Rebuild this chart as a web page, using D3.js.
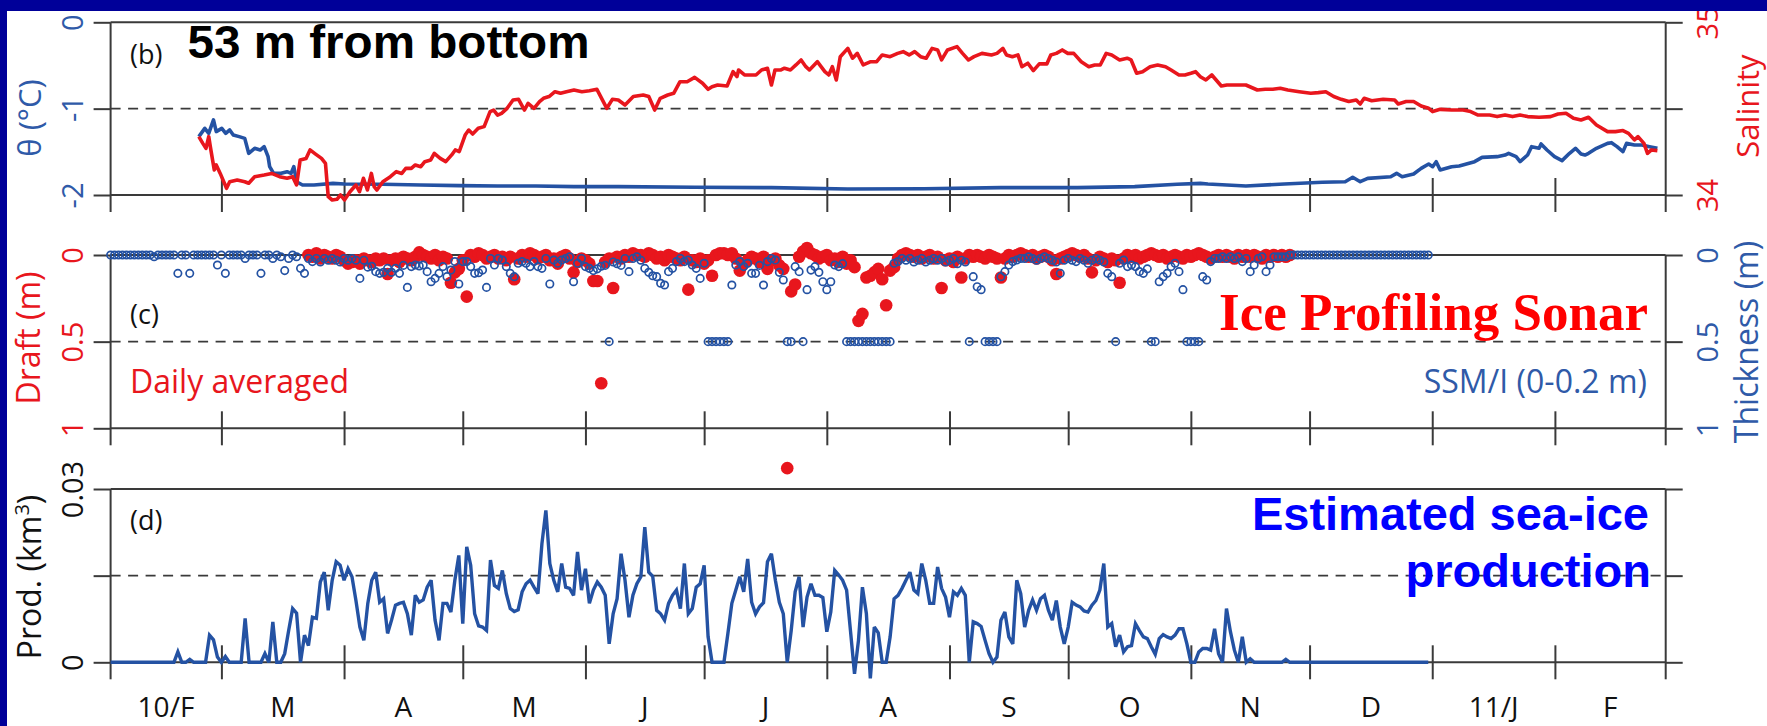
<!DOCTYPE html>
<html>
<head>
<meta charset="utf-8">
<script src="https://cdn.jsdelivr.net/npm/d3@7"></script>
<style>
  html, body { margin: 0; padding: 0; background: #000099; }
  svg { display: block; }
</style>
</head>
<body>
<svg id="chart" width="1767" height="726"></svg>
<script>
// ---------------------------------------------------------------
// Mooring record, Feb 2010 – Feb 2011
// ---------------------------------------------------------------

// Month boundaries and labels for the shared time axis
const monthStarts = ["2010-02-01","2010-03-01","2010-04-01","2010-05-01","2010-06-01","2010-07-01",
  "2010-08-01","2010-09-01","2010-10-01","2010-11-01","2010-12-01","2011-01-01","2011-02-01","2011-03-01"];
const monthLabels = ["10/F","M","A","M","J","J","A","S","O","N","D","11/J","F"];

// (b) 53 m above bottom: potential temperature, days after 2010-02-01
const thetaDay = [22.3,23.8,24.8,26.0,26.7,28.1,29.1,30.1,31.0,32.5,33.9,34.9,36.4,37.8,38.8,39.8,40.2,41.2,43.1,44.6,
  45.6,46.3,47.0,48.5,51.4,56.2,59.1,68.8,78.4,88.1,97.8,107.5,117.1,128.3,147.6,167.0,186.3,205.6,225.0,244.3,
  258.8,269.5,275.4,277.3,286.9,296.6,306.2,312.0,313.9,315.8,317.7,323.5,325.0,326.4,329.3,331.2,333.1,334.1,335.0,336.0,
  338.9,340.8,344.7,346.6,350.4,352.4,353.3,355.2,356.2,358.1,359.1,361.0,361.5,363.0,364.9,366.8,368.7,370.2,371.6,372.6,
  373.5,375.5,378.3,379.3,380.7,382.2,383.1,385.1,387.0,388.9,390.9];
const thetaC = [-1.324,-1.228,-1.286,-1.131,-1.266,-1.228,-1.286,-1.247,-1.305,-1.324,-1.344,-1.517,-1.459,-1.479,-1.440,-1.556,-1.672,-1.749,-1.749,-1.730,
  -1.749,-1.672,-1.846,-1.884,-1.884,-1.865,-1.873,-1.876,-1.884,-1.892,-1.896,-1.896,-1.903,-1.903,-1.911,-1.915,-1.930,-1.927,-1.915,-1.915,
  -1.903,-1.876,-1.865,-1.873,-1.896,-1.873,-1.853,-1.846,-1.795,-1.846,-1.807,-1.788,-1.749,-1.788,-1.757,-1.691,-1.641,-1.672,-1.614,-1.710,
  -1.672,-1.664,-1.614,-1.564,-1.556,-1.537,-1.517,-1.556,-1.614,-1.537,-1.440,-1.459,-1.409,-1.479,-1.556,-1.602,-1.517,-1.459,-1.525,-1.537,
  -1.517,-1.459,-1.402,-1.394,-1.440,-1.498,-1.402,-1.421,-1.421,-1.440,-1.459];

// (b) salinity, days after 2010-02-01
const salDay = [22.3,23.3,24.1,24.8,25.2,26.2,26.7,27.7,29.3,30.1,32.0,33.9,34.9,36.4,38.8,40.7,42.7,44.6,46.0,47.0,
  47.9,49.4,50.4,51.8,53.3,54.3,55.0,56.0,57.2,58.1,59.1,60.5,62.0,62.9,63.9,64.9,65.9,66.6,67.3,68.8,
  70.7,72.2,73.6,74.6,76.0,77.0,78.4,79.4,80.9,81.8,83.3,84.7,86.2,87.1,88.1,89.6,90.5,91.5,92.9,94.4,
  95.9,96.8,97.8,98.8,100.2,101.7,103.1,104.1,104.6,105.5,107.0,108.4,109.4,110.8,112.3,113.7,115.2,117.1,119.1,121.0,122.9,
  125.4,126.8,128.3,130.0,132.1,134.6,136.0,137.5,138.9,140.8,142.3,143.9,145.7,147.6,149.6,151.0,152.0,153.4,155.8,157.3,
  158.3,158.7,160.2,163.1,164.5,166.0,167.0,167.9,169.4,170.3,171.8,173.2,174.5,175.7,176.6,178.6,180.5,181.5,182.4,183.4,
  184.4,186.3,187.5,188.7,190.2,192.1,193.6,195.0,197.0,198.9,200.3,201.8,203.2,204.7,206.1,207.6,209.0,210.0,211.5,213.9,
  215.3,216.8,218.2,220.2,222.6,224.0,225.5,226.4,227.9,229.3,230.3,231.8,233.2,234.7,236.6,237.6,239.0,240.5,241.9,243.4,
  245.3,247.2,248.7,250.1,251.6,253.0,255.0,256.9,257.9,259.3,260.8,262.7,264.6,266.6,268.0,270.0,
  271.5,273.0,274.2,275.4,276.8,278.3,280.7,282.1,284.1,286.9,289.8,291.8,293.7,295.6,297.5,300.4,303.3,305.2,307.1,309.1,
  311.0,312.9,314.8,315.8,316.8,318.7,321.6,324.5,325.4,327.4,329.3,331.2,333.1,334.1,336.0,338.9,341.8,343.7,345.6,348.5,
  350.4,352.4,354.3,356.2,358.1,361.0,363.9,365.8,367.8,369.7,371.6,373.5,375.5,378.3,380.3,382.2,383.6,385.1,386.0,387.5,
  388.4,389.4,390.9];
const salPSU = [34.338,34.299,34.270,34.338,34.280,34.145,34.174,34.125,34.039,34.077,34.087,34.077,34.068,34.106,34.116,34.125,34.106,34.097,34.106,34.058,
  34.203,34.212,34.261,34.237,34.212,34.183,33.990,33.971,33.975,34.000,33.971,34.019,34.058,34.019,34.097,34.029,34.125,34.048,34.029,34.077,
  34.106,34.135,34.125,34.154,34.154,34.174,34.164,34.193,34.203,34.241,34.212,34.193,34.232,34.261,34.251,34.347,34.376,34.353,34.386,34.396,
  34.483,34.492,34.463,34.473,34.502,34.550,34.554,34.512,34.492,34.531,34.502,34.541,34.560,34.570,34.598,34.589,34.598,34.608,34.598,34.604,34.612,
  34.502,34.554,34.550,34.521,34.570,34.579,34.570,34.492,34.560,34.579,34.589,34.656,34.656,34.681,34.647,34.612,34.627,34.637,34.631,34.714,
  34.685,34.724,34.695,34.695,34.724,34.734,34.637,34.724,34.724,34.734,34.724,34.753,34.782,34.743,34.724,34.772,34.714,34.695,34.743,34.666,
  34.801,34.849,34.792,34.820,34.753,34.772,34.772,34.811,34.801,34.820,34.830,34.811,34.830,34.801,34.792,34.849,34.840,34.782,34.840,34.859,
  34.820,34.782,34.801,34.820,34.811,34.820,34.849,34.811,34.801,34.811,34.743,34.763,34.720,34.759,34.759,34.811,34.820,34.840,34.820,34.820,
  34.772,34.743,34.753,34.753,34.820,34.811,34.782,34.792,34.782,34.705,34.714,34.743,34.753,34.743,34.724,34.695,
  34.695,34.705,34.714,34.685,34.666,34.695,34.631,34.637,34.637,34.637,34.608,34.612,34.612,34.618,34.608,34.598,34.589,34.593,34.598,34.570,
  34.554,34.541,34.550,34.527,34.560,34.546,34.554,34.550,34.527,34.541,34.541,34.515,34.502,34.483,34.496,34.492,34.492,34.483,34.463,34.463,
  34.454,34.463,34.454,34.463,34.454,34.450,34.454,34.469,34.473,34.444,34.434,34.450,34.405,34.367,34.367,34.373,34.357,34.319,34.338,34.299,
  34.241,34.261,34.257];

// (c) SSM/I thin-ice thickness (m), daily from 2010-02-01
const ssmiStart = "2010-02-01";
const ssmiThickness = [
  0,0,0,0,0,0,0,0,0,0,
  0,0.01,0,0,0,0,0,0.106,0,0,
  0.106,0,0,0,0,0,0,0.058,0,0.106,
  0,0,0,0,0.02,0,0,0,0.106,0,
  0,0.02,0,0.01,0.09,0.02,0,0.01,0.077,0.106,
  0.02,0.038,0.02,0.04,0.02,0.03,0.02,0.03,0.04,0.02,
  0.03,0.02,0.03,0.135,0.03,0.07,0.065,0.096,0.106,0.10,
  0.077,0.10,0.077,0.106,0.06,0.187,0.067,0.058,0.063,0.058,
  0.096,0.154,0.135,0.106,0.067,0.125,0.087,0.038,0.167,0.038,
  0.038,0.067,0.106,0.102,0.087,0.187,0.02,0.058,0.02,0.029,
  0.067,0.106,0.125,0.048,0.038,0.048,0.067,0.038,0.067,0.077,
  0.02,0.167,0.029,0.048,0.029,0.02,0.01,0.154,0.048,0.02,
  0.067,0.077,0.09,0.08,0.065,0.06,0.5,0.04,0.05,0.06,
  0.02,0.096,0.02,0.01,0.03,0.077,0.10,0.12,0.125,0.163,
  0.173,0.096,0.077,0.038,0.02,0.038,0.029,0.058,0.077,0.135,
  0.048,0.5,0.5,0.5,0.5,0.5,0.5,0.173,0.058,0.038,
  0.067,0.048,0.106,0.106,0.06,0.173,0.038,0.02,0.029,0.1,
  0.144,0.5,0.5,0.067,0.096,0.5,0.2,0.087,0.067,0.1,
  0.154,0.2,0.154,0.058,0.067,0.05,0.5,0.5,0.5,0.5,
  0.5,0.5,0.5,0.5,0.5,0.5,0.5,0.5,0.048,0.038,
  0.02,0.03,0.02,0.04,0.03,0.02,0.04,0.03,0.02,0.03,
  0.02,0.04,0.03,0.02,0.05,0.03,0.04,0.5,0.125,0.183,
  0.2,0.5,0.5,0.5,0.5,0.125,0.096,0.058,0.038,0.029,
  0.02,0.02,0.01,0.02,0.03,0.02,0.01,0.02,0.03,0.04,
  0.106,0.03,0.02,0.03,0.038,0.02,0.03,0.048,0.03,0.02,
  0.03,0.04,0.106,0.125,0.5,0.048,0.029,0.067,0.058,0.067,
  0.096,0.106,0.08,0.5,0.5,0.154,0.125,0.106,0.067,0.048,
  0.096,0.2,0.5,0.5,0.5,0.5,0.125,0.144,0.038,0.02,
  0.02,0.01,0.02,0.01,0.02,0.01,0.038,0.02,0.096,0.058,
  0.02,0.01,0.096,0.058,0.01,0.01,0.01,0.01,0,0,
  0,0,0,0,0,0,0,0,0,0,
  0,0,0,0,0,0,0,0,0,0,
  0,0,0,0,0,0,0,0,0,0,
  0,0,0,0];

// (c) IPS daily-averaged ice draft (m), daily from 2010-03-23
const ipsStart = "2010-03-23";
const ipsDraft = [
  0,0.01,-0.01,0.02,0,0.01,0.02,0,0.01,0.03,
  0.05,0.04,0.03,0.05,0.02,0.03,0.04,0.02,0.03,0.02,
  0.11,0.03,0.02,0.04,0.01,0.02,0.03,0.01,-0.015,0,
  0.01,0.02,0,0.03,0.01,0.02,0.16,0.10,0.08,0.03,
  0.24,0,0.01,-0.01,0,0.02,0.01,0,0.02,0.01,
  0.03,0.01,0.14,0.02,0,0.01,-0.01,0,0.02,0.01,
  0,0.03,0.02,0.05,0.01,0,0.02,0.10,0.04,0.02,
  0.03,0.05,0.15,0.15,0.74,0.04,0.02,0.19,0.01,0.02,
  0,0.01,-0.01,0,0,0.01,-0.01,0,0.02,0.01,
  0.03,0,0.01,0.02,0.03,0.01,0.20,0.03,0.04,0.02,
  0.05,0.03,0.12,0,-0.01,-0.01,0,-0.01,0.02,0.09,
  0.05,0.03,0.01,0.02,0.04,0.01,0.08,0.03,0.02,0.06,
  0.08,1.23,0.21,0.17,0.01,-0.02,-0.04,-0.01,0,0.02,
  0.01,0,0.03,0.02,0.04,0.01,0.05,0.03,0.07,0.38,
  0.34,0.13,0.12,0.10,0.08,0.14,0.29,0.09,0.07,0.02,
  0,-0.01,0,0.01,0,0.02,0.01,0,0.02,0.01,
  0.19,0.03,0.02,0.04,0.01,0.13,0.02,0,0.01,0,
  0.01,0.02,0,0.01,0.02,0.13,0.02,0,0.01,0,
  -0.01,0,0.01,0,0.02,0.01,0,0.01,0.03,0.11,
  0.02,0.01,0,-0.01,0,0.01,0,0.02,0.10,0.03,
  0.01,0.02,0.04,0.02,0.03,0.16,0.02,0,0.01,0,
  0.02,0.01,0,-0.01,0,0.01,0,0.02,0.01,0,
  0.01,0.02,0,0.01,0,-0.01,0,0.01,0.02,0.01,
  0,0.01,0,0.01,0.02,0,0.01,0,0.01,0,
  0.01,0.02,0,0.01,0,0.01,0,0.01,0];

// (d) estimated daily sea-ice production (km^3), daily from 2010-02-01
const prodStart = "2010-02-01";
const iceProduction = [
  0,0,0,0,0,0,0,0,0,0,
  0,0,0,0,0,0,0,0.0018,0,0,
  0.0005,0,0,0,0,0.0047,0.0039,0.0009,0,0.0010,
  0,0,0,0,0.0076,0,0,0,0,0.0015,
  0,0.0070,0,0,0.0015,0.0055,0.0093,0.0085,0,0.0047,
  0.0029,0.0078,0.0076,0.0139,0.0156,0.0090,0.0142,0.0174,0.0168,0.0142,
  0.0162,0.0148,0.0107,0.0061,0.0038,0.0102,0.0142,0.0156,0.0104,0.0110,
  0.0050,0.0073,0.0099,0.0102,0.0104,0.0084,0.0047,0.0116,0.0104,0.0108,
  0.0130,0.0142,0.0073,0.0038,0.0102,0.0102,0.0087,0.0142,0.0185,0.0067,
  0.0200,0.0168,0.0084,0.0063,0.0061,0.0055,0.0177,0.0133,0.0128,0.0159,
  0.0119,0.0093,0.0088,0.0091,0.0122,0.0136,0.0142,0.0130,0.0119,0.0205,
  0.0263,0.0171,0.0142,0.0122,0.0171,0.0130,0.0128,0.0116,0.0191,0.0125,
  0.0162,0.0102,0.0125,0.0139,0.0130,0.0116,0.0032,0.0084,0.0110,0.0188,
  0.0142,0.0078,0.0116,0.0136,0.0148,0.0234,0.0156,0.0149,0.0090,0.0084,
  0.0073,0.0102,0.0116,0.0125,0.0093,0.0171,0.0084,0.0093,0.0130,0.0136,
  0.0168,0.0044,0,0,0,0,0.0050,0.0102,0.0125,0.0148,
  0.0122,0.0179,0.0104,0.0084,0.0096,0.0103,0.0174,0.0188,0.0142,0.0104,
  0.0084,0,0.0055,0.0122,0.0148,0.0061,0.0113,0.0136,0.0116,0.0116,
  0.0112,0.0053,0.0087,0.0159,0.0151,0.0142,0.0125,0.0053,-0.0020,0.0038,
  0.0130,0.0084,-0.0028,0.0061,0.0051,0,0,0.0044,0.0110,0.0116,
  0.0128,0.0142,0.0156,0.0125,0.0119,0.0171,0.0142,0.0102,0.0102,0.0165,
  0.0128,0.0113,0.0078,0.0122,0.0116,0.0128,0.0116,0,0.0070,0.0067,
  0.0062,0.0038,0.0015,0,0.0009,0.0073,0.0087,0.0044,0.0032,0.0142,
  0.0119,0.0061,0.0090,0.0108,0.0090,0.0110,0.0116,0.0090,0.0073,0.0107,
  0.0061,0.0032,0.0061,0.0104,0.0099,0.0096,0.0089,0.0087,0.0099,0.0107,
  0.0125,0.0171,0.0061,0.0067,0.0027,0.0047,0.0018,0.0027,0.0029,0.0067,
  0.0055,0.0044,0.0041,0.0027,0.0014,0.0041,0.0048,0.0044,0.0041,0.0047,
  0.0058,0.0058,0.0032,0,0,0.0018,0.0024,0.0024,0.0021,0.0058,
  0.0015,0,0.0093,0.0053,0.0021,0,0.0044,0,0.0006,0,
  0,0,0,0,0,0,0,0.0005,0,0,
  0,0,0,0,0,0,0,0,0,0,
  0,0,0,0,0,0,0,0,0,0,
  0,0,0,0,0,0,0,0,0,0,
  0,0,0,0];

// ---------------------------------------------------------------
// Drawing
// ---------------------------------------------------------------
const W = 1767, H = 726;
const X0 = 110.6, X1 = 1665.7;   // plot left / right edges
const TK = 17;                   // tick length
const RED = "#e8161d", BLUE = "#2452a3", LABEL_BLUE = "#2f5aa8", FRAME = "#3a3a3a";
const SANS = "'Open Sans', 'DejaVu Sans', sans-serif";

const parse = d3.utcParse("%Y-%m-%d");
const t0 = parse("2010-02-01");
const dayToDate = d => new Date(t0.getTime() + d * 864e5);
const dailyDates = (startStr, n) => d3.range(n).map(i => d3.utcDay.offset(parse(startStr), i));

const x = d3.scaleUtc()
  .domain([parse(monthStarts[0]), parse(monthStarts[monthStarts.length - 1])])
  .range([X0, X1]);

const svg = d3.select("#chart");
svg.append("rect").attr("width", W).attr("height", H).attr("fill", "#ffffff");

// panel scales
const yTheta = d3.scaleLinear().domain([-2, 0]).range([195, 22.3]);
const ySal   = d3.scaleLinear().domain([34, 35]).range([195, 22.3]);
const yDraft = d3.scaleLinear().domain([0, 1]).range([255, 428.3]);
const yThick = d3.scaleLinear().domain([0, 1]).range([255, 428.3]);
const yProd  = d3.scaleLinear().domain([0, 0.03]).range([662.3, 489]);

const innerMonths = monthStarts.slice(1, -1).map(parse);

// frame with solid edges, dashed middle line and crossing month ticks
function frame(y, tickVals, topY, bottomY) {
  const g = svg.append("g").attr("color", FRAME).attr("stroke", FRAME).attr("stroke-width", 2);
  const midY = y(tickVals[1]);
  [topY, bottomY].forEach(v => g.append("line").attr("x1", X0).attr("x2", X1).attr("y1", v).attr("y2", v));
  g.append("line").attr("x1", X0).attr("x2", X1).attr("y1", midY).attr("y2", midY)
    .attr("stroke-dasharray", "10,7.5").attr("stroke-width", 1.8);

  const left = g.append("g").attr("transform", `translate(${X0},0)`)
    .call(d3.axisLeft(y).tickValues(tickVals).tickSize(TK).tickFormat(""));
  const right = g.append("g").attr("transform", `translate(${X1},0)`)
    .call(d3.axisRight(y).tickValues(tickVals).tickSize(TK).tickFormat(""));
  [left, right].forEach(a => { a.select(".domain").remove(); a.selectAll("line").attr("stroke-width", 2); });

  g.append("line").attr("x1", X0).attr("x2", X0).attr("y1", topY).attr("y2", bottomY + TK);
  g.append("line").attr("x1", X1).attr("x2", X1).attr("y1", topY).attr("y2", bottomY + TK);

  const xa = g.append("g").attr("transform", `translate(0,${bottomY})`)
    .call(d3.axisBottom(x).tickValues(innerMonths).tickSize(TK).tickFormat(""));
  xa.select(".domain").remove();
  xa.selectAll(".tick line").attr("y1", -TK).attr("y2", TK).attr("stroke-width", 2);
}

// rotated tick labels
function yLabels(y, vals, fmt, side, color) {
  const axis = (side === "left" ? d3.axisLeft(y) : d3.axisRight(y)).tickValues(vals).tickFormat(fmt).tickSize(0);
  const g = svg.append("g").attr("transform", `translate(${side === "left" ? X0 : X1},0)`).call(axis);
  g.select(".domain").remove();
  g.selectAll(".tick line").remove();
  g.selectAll(".tick text")
    .attr("x", 0).attr("y", 0).attr("dy", 0)
    .attr("transform", `translate(${side === "left" ? -28 : 52},0) rotate(-90)`)
    .attr("text-anchor", "middle")
    .attr("fill", color)
    .style("font-family", SANS).style("font-size", "29px");
}

function rotTitle(txt, xPos, yPos, color, size) {
  return svg.append("text").attr("transform", `translate(${xPos},${yPos}) rotate(-90)`)
    .attr("text-anchor", "middle").attr("fill", color)
    .style("font-family", SANS).style("font-size", size + "px").text(txt);
}

function plainText(txt, xPos, yPos, opts) {
  return svg.append("text").attr("x", xPos).attr("y", yPos)
    .attr("text-anchor", opts.anchor || "start").attr("fill", opts.color || "#111")
    .style("font-family", opts.family || SANS).style("font-size", opts.size + "px")
    .style("font-weight", opts.weight || "normal").text(txt);
}

const fmtPlain = d => String(d);

// ---------- panel (b) ----------
frame(yTheta, [-2, -1, 0], 22.3, 195);
const thetaPts = thetaDay.map((d, i) => [dayToDate(d), thetaC[i]]);
const salPts = salDay.map((d, i) => [dayToDate(d), salPSU[i]]);
svg.append("path").datum(thetaPts)
  .attr("d", d3.line().x(p => x(p[0])).y(p => yTheta(p[1])))
  .attr("fill", "none").attr("stroke", BLUE).attr("stroke-width", 3.6).attr("stroke-linejoin", "round");
svg.append("path").datum(salPts)
  .attr("d", d3.line().x(p => x(p[0])).y(p => ySal(p[1])))
  .attr("fill", "none").attr("stroke", RED).attr("stroke-width", 3.6).attr("stroke-linejoin", "round");
yLabels(yTheta, [-2, -1, 0], fmtPlain, "left", LABEL_BLUE);
yLabels(ySal, [34, 35], fmtPlain, "right", RED);
rotTitle("θ (°C)", 41, 118, LABEL_BLUE, 31);
rotTitle("Salinity", 1759, 106, RED, 31);
plainText("(b)", 130, 63.5, { size: 27 });
plainText("53 m from bottom", 187.5, 58, { size: 46, weight: "bold", color: "#000", family: "'Liberation Sans', Arial, sans-serif" })
  .attr("textLength", 402).attr("lengthAdjust", "spacingAndGlyphs");

// ---------- panel (c) ----------
frame(yDraft, [0, 0.5, 1], 255, 428.3);
const ipsDates = dailyDates(ipsStart, ipsDraft.length);
svg.append("g").selectAll("circle").data(ipsDraft).join("circle")
  .attr("cx", (d, i) => x(ipsDates[i])).attr("cy", d => yDraft(d)).attr("r", 6.3)
  .attr("fill", RED);
const ssmiDates = dailyDates(ssmiStart, ssmiThickness.length);
svg.append("g").selectAll("circle").data(ssmiThickness).join("circle")
  .attr("cx", (d, i) => x(ssmiDates[i])).attr("cy", d => yThick(d)).attr("r", 3.7)
  .attr("fill", "none").attr("stroke", BLUE).attr("stroke-width", 1.7);
yLabels(yDraft, [0, 0.5, 1], fmtPlain, "left", RED);
yLabels(yThick, [0, 0.5, 1], fmtPlain, "right", LABEL_BLUE);
rotTitle("Draft (m)", 40, 338, RED, 32);
rotTitle("Thickness (m)", 1758, 342, LABEL_BLUE, 32);
plainText("(c)", 130, 323.5, { size: 27 });
plainText("Daily averaged", 130, 393, { size: 32, color: RED });
plainText("SSM/I (0-0.2 m)", 1647, 393, { size: 32, color: LABEL_BLUE, anchor: "end" });
plainText("Ice Profiling Sonar", 1648, 330, { size: 53, weight: "bold", color: "#ff0000", anchor: "end",
  family: "'Liberation Serif', 'Times New Roman', serif" });

// ---------- panel (d) ----------
frame(yProd, [0, 0.015, 0.03], 489, 662.3);
const prodDates = dailyDates(prodStart, iceProduction.length);
svg.append("path").datum(iceProduction)
  .attr("d", d3.line().x((d, i) => x(prodDates[i])).y(d => yProd(d)))
  .attr("fill", "none").attr("stroke", BLUE).attr("stroke-width", 3.4).attr("stroke-linejoin", "miter").attr("stroke-miterlimit", 3);
yLabels(yProd, [0, 0.03], fmtPlain, "left", "#111");
const prodTitle = svg.append("text").attr("transform", "translate(41,577) rotate(-90)")
  .attr("text-anchor", "middle").attr("fill", "#111")
  .style("font-family", SANS).style("font-size", "32px");
prodTitle.append("tspan").text("Prod. (km");
prodTitle.append("tspan").attr("dy", -12).style("font-size", "20px").text("3");
prodTitle.append("tspan").attr("dy", 12).text(")");
plainText("(d)", 130, 530, { size: 27 });
plainText("Estimated sea-ice", 1649, 530, { size: 47, weight: "bold", color: "#0000ff", anchor: "end",
  family: "'Liberation Sans', Arial, sans-serif" });
plainText("production", 1651, 587, { size: 47, weight: "bold", color: "#0000ff", anchor: "end",
  family: "'Liberation Sans', Arial, sans-serif" });

// month labels centred on each month
const monthDates = monthStarts.map(parse);
const xl = svg.append("g").attr("transform", "translate(0,717)");
monthLabels.forEach((lab, i) => {
  const mid = (x(monthDates[i]) + x(monthDates[i + 1])) / 2;
  xl.append("text").attr("x", mid).attr("y", 0).attr("text-anchor", "middle").attr("fill", "#111")
    .style("font-family", SANS).style("font-size", "28px").text(lab);
});

// slide border
svg.append("rect").attr("x", 0).attr("y", 0).attr("width", W).attr("height", 11).attr("fill", "#000099");
svg.append("rect").attr("x", 0).attr("y", 0).attr("width", 7).attr("height", H).attr("fill", "#000099");
</script>
</body>
</html>
